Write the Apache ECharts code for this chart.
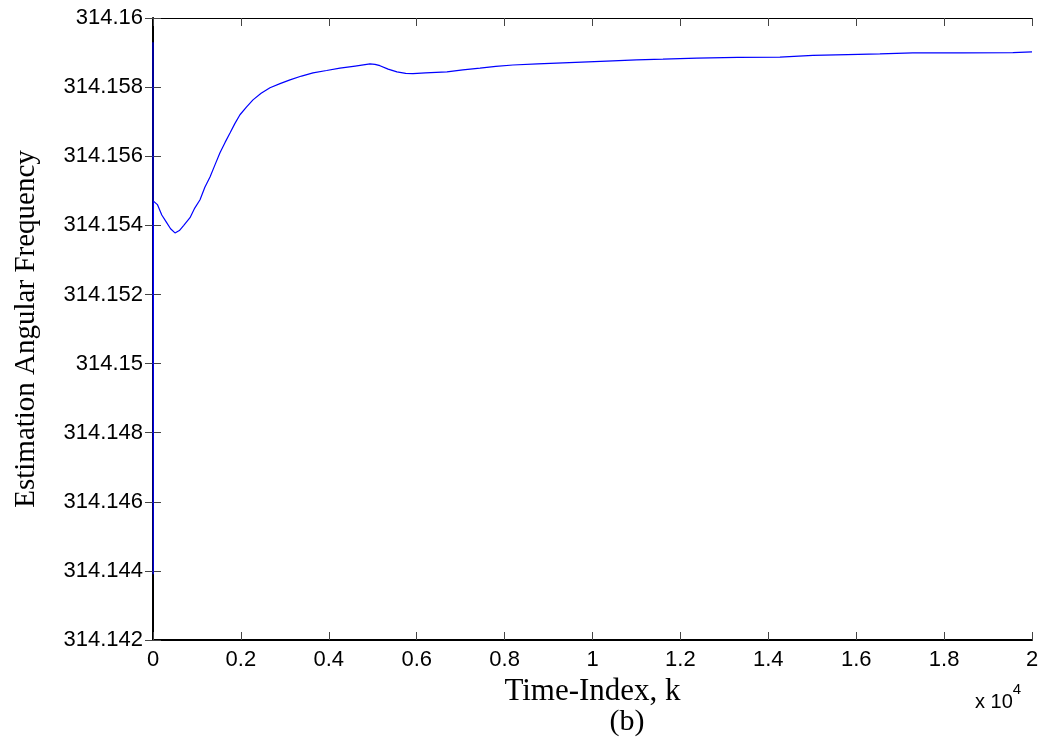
<!DOCTYPE html>
<html>
<head>
<meta charset="utf-8">
<script src="https://cdn.jsdelivr.net/npm/echarts@6/dist/echarts.min.js"></script>
<style>
  html, body { margin: 0; padding: 0; background: #fff; }
  #chart { width: 1046px; height: 742px; }
</style>
</head>
<body>
<div id="chart"></div>
<script>
// time index k (raw samples) and estimated angular frequency
const timeIndex = [
  0, 5, 10, 100, 200, 300, 400, 500, 600, 700, 842, 950, 1070, 1180, 1297,
  1410, 1524, 1640, 1752, 1865, 1979, 2130, 2275, 2460, 2662, 2890, 3117,
  3380, 3640, 3950, 4254, 4600, 4937, 5050, 5164, 5350, 5551, 5750, 5915,
  6200, 6688, 7050, 7439, 7800, 8190, 8750, 9328, 9900, 10465, 11000, 11603,
  12376, 13300, 14264, 15015, 15800, 16539, 17290, 18400, 19565, 20000
];
const omegaEst = [
  314.1593, 314.1439, 314.1547, 314.1546, 314.1543, 314.1541, 314.1539,
  314.15378, 314.15385, 314.154, 314.15422, 314.1545, 314.15474, 314.1551,
  314.1554, 314.15575, 314.1561, 314.1564, 314.15667, 314.15695, 314.1572,
  314.15743, 314.15763, 314.15782, 314.15798, 314.1581, 314.15821, 314.15832,
  314.15841, 314.15848, 314.15855, 314.15861, 314.15867, 314.15866, 314.15862,
  314.15852, 314.15844, 314.1584, 314.15839, 314.15841, 314.15844, 314.1585,
  314.15855, 314.1586, 314.15864, 314.15867, 314.1587, 314.15873, 314.15876,
  314.15879, 314.15881, 314.15884, 314.15886, 314.15887, 314.15892, 314.15894,
  314.15896, 314.15899, 314.15899, 314.159, 314.15902
];

const yMin = 314.142;
const yMax = 314.16;
const yStep = 0.002;
const xMax = 20000;
const xStep = 2000;

let chartDom = document.getElementById('chart');
let myChart = echarts.init(chartDom);

const tickFont = { fontFamily: 'Liberation Sans', fontSize: 22, color: '#000' };

let option = {
  animation: false,
  grid: { left: 153, right: 14, top: 18, bottom: 102 },
  xAxis: [
    {
      type: 'value',
      min: 0,
      max: xMax,
      interval: xStep,
      name: 'Time-Index, k',
      nameLocation: 'middle',
      nameGap: 36,
      nameTextStyle: { fontFamily: 'Liberation Serif', fontSize: 31, color: '#000' },
      axisLine: { lineStyle: { color: '#000', width: 2 } },
      axisTick: { inside: true, length: 8, lineStyle: { color: '#444' } },
      axisLabel: {
        ...tickFont,
        margin: 9,
        formatter: (v) => parseFloat((v / 10000).toFixed(1)).toString(),
      },
      splitLine: { show: false },
    },
    {
      type: 'value',
      position: 'top',
      min: 0,
      max: xMax,
      interval: xStep,
      axisLine: { lineStyle: { color: '#000', width: 1 } },
      axisTick: { inside: true, length: 8, lineStyle: { color: '#444' } },
      axisLabel: { show: false },
      splitLine: { show: false },
    },
  ],
  yAxis: [
    {
      type: 'value',
      min: yMin,
      max: yMax,
      interval: yStep,
      name: 'Estimation Angular Frequency',
      nameLocation: 'middle',
      nameGap: 112,
      nameTextStyle: { fontFamily: 'Liberation Serif', fontSize: 29, color: '#000' },
      axisLine: { show: true, lineStyle: { color: '#000', width: 1 } },
      axisTick: { show: true, inside: true, length: 8, lineStyle: { color: '#444' } },
      axisLabel: {
        ...tickFont,
        margin: 10,
        formatter: (v) => parseFloat(v.toFixed(3)).toString(),
      },
      splitLine: { show: false },
    },
    {
      type: 'value',
      position: 'right',
      min: yMin,
      max: yMax,
      interval: yStep,
      axisLine: { show: true, lineStyle: { color: '#000', width: 2 } },
      axisTick: { show: true, inside: true, length: 8, lineStyle: { color: '#444' } },
      axisLabel: { show: false },
      splitLine: { show: false },
    },
  ],
  graphic: [
    {
      type: 'text',
      left: 975,
      top: 682,
      style: {
        text: '{b|x 10}{s|4}',
        rich: {
          b: { fontFamily: 'Liberation Sans', fontSize: 20, color: '#000', padding: [10, 0, 0, 0] },
          s: { fontFamily: 'Liberation Sans', fontSize: 15, color: '#000', verticalAlign: 'top' },
        },
      },
    },
    {
      type: 'text',
      x: 627,
      y: 722,
      style: {
        text: '(b)',
        fontFamily: 'Liberation Serif',
        fontSize: 30,
        fill: '#000',
        textAlign: 'center',
        textVerticalAlign: 'middle',
      },
    },
  ],
  series: [
    {
      type: 'line',
      xAxisIndex: 0,
      yAxisIndex: 0,
      data: timeIndex.map((k, i) => [k, omegaEst[i]]),
      showSymbol: false,
      lineStyle: { color: '#0000ff', width: 1.2 },
      z: 5,
    },
  ],
};

myChart.setOption(option);
</script>
</body>
</html>
